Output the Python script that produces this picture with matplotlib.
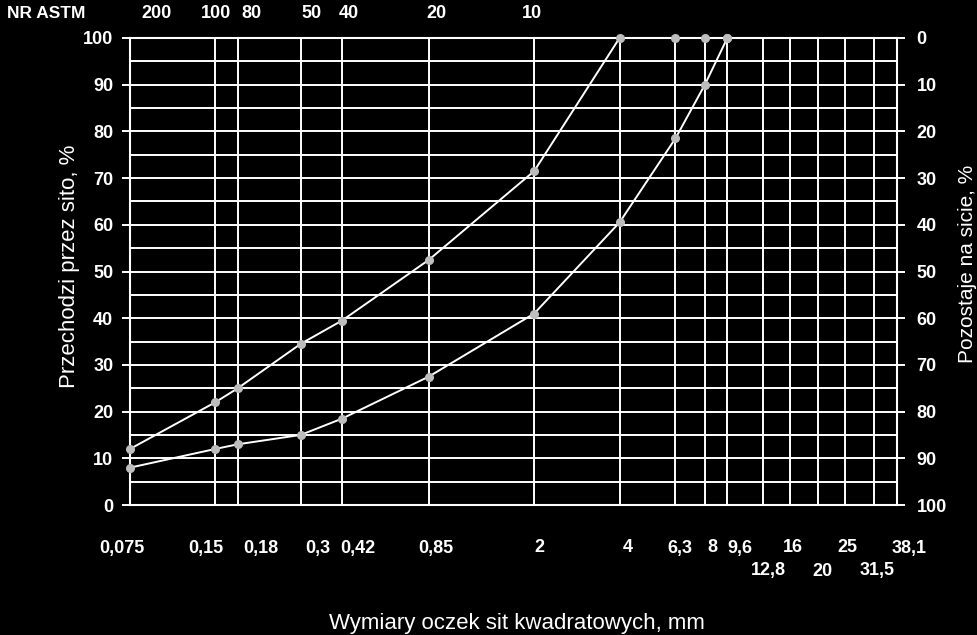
import numpy as np
import matplotlib.pyplot as plt

plt.rcParams['font.family'] = ['Liberation Sans', 'DejaVu Sans']
plt.rcParams['text.color'] = 'white'

# sieve openings, mm (bottom axis)
row1_sizes  = [0.075, 0.15, 0.18, 0.3, 0.42, 0.85, 2, 4, 6.3, 8, 9.6, 16, 25, 38.1]
row1_labels = ['0,075', '0,15', '0,18', '0,3', '0,42', '0,85', '2', '4', '6,3', '8', '9,6', '16', '25', '38,1']
row2_sizes  = [12.8, 20, 31.5]
row2_labels = ['12,8', '20', '31,5']

# ASTM sieve numbers (top axis)
astm_sizes  = [0.075, 0.15, 0.18, 0.3, 0.42, 0.85, 2]
astm_labels = ['200', '100', '80', '50', '40', '20', '10']

# grading curves, % passing
curve_x   = [0.075, 0.15, 0.18, 0.3, 0.42, 0.85, 2, 4, 6.3, 8, 9.6]
upper_pct = [12, 22, 25, 34.5, 39.5, 52.5, 71.5, 100, 100, 100, 100]
lower_pct = [8, 12, 13, 15, 18.5, 27.5, 41, 60.5, 78.5, 90, 100]

# horizontal nudges of the hand-placed labels (pixels)
row1_dx = [-8, -10, 23, 17, 16, 7, 5, 8, 4, 8, 13, 3, 2, 12]
row2_dx = [6, 5, 4]
astm_dx = [26, 1, 14, 11, 7, 8, -2]

fig = plt.figure(figsize=(9.78, 6.35), dpi=100, facecolor='black')
ax = fig.add_axes([130/978, 130/635, 767/978, 467/635])
ax.set_facecolor('black')

xmin, xmax = 0.075, 38.1
ax.set_xscale('log')
ax.set_xlim(xmin, xmax)
ax.set_ylim(0, 100)

ax.set_xticks(row1_sizes)
ax.set_xticklabels([])
ax.set_xticks(row2_sizes, minor=True)
ax.set_xticklabels([], minor=True)
ax.set_yticks(np.arange(0, 101, 10))
ax.set_yticks(np.arange(5, 100, 10), minor=True)

ax.grid(True, which='both', color='white', lw=1.4)
ax.set_axisbelow(True)
for s in ax.spines.values():
    s.set_color('white')
    s.set_linewidth(1.5)

ax.tick_params(axis='x', which='both', length=0)
ax.tick_params(axis='y', which='major', length=6, width=1.4, color='white', pad=6,
               labelsize=13, labelcolor='white')
ax.tick_params(axis='y', which='minor', length=0)
for lab in ax.get_yticklabels():
    lab.set_fontweight('bold')

px = 0.72  # points per pixel at 100 dpi
lab_kw = dict(xycoords=('data', 'axes fraction'), textcoords='offset points',
              ha='center', va='center', fontsize=13, fontweight='bold', color='white')
for s, t, dx in zip(row1_sizes, row1_labels, row1_dx):
    ax.annotate(t, xy=(s, 0), xytext=(dx * px, -43 * px), **lab_kw)
for s, t, dx in zip(row2_sizes, row2_labels, row2_dx):
    ax.annotate(t, xy=(s, 0), xytext=(dx * px, -66 * px), **lab_kw)
for s, t, dx in zip(astm_sizes, astm_labels, astm_dx):
    ax.annotate(t, xy=(s, 1), xytext=(dx * px, 24 * px), **lab_kw)

ax.plot(curve_x, upper_pct, color='white', lw=1.4, marker='o', ms=5.5,
        mfc='#bdbdbd', mec='#bdbdbd', clip_on=False, zorder=5)
ax.plot(curve_x, lower_pct, color='white', lw=1.4, marker='o', ms=5.5,
        mfc='#bdbdbd', mec='#bdbdbd', clip_on=False, zorder=5)

# right axis: retained on sieve
ax2 = ax.twinx()
ax2.set_ylim(100, 0)
ax2.set_yticks(np.arange(0, 101, 10))
ax2.tick_params(axis='y', length=6, width=1.4, color='white', pad=8,
                labelsize=13, labelcolor='white')
for lab in ax2.get_yticklabels():
    lab.set_fontweight('bold')
for s in ax2.spines.values():
    s.set_visible(False)

fig.text(7/978, 1 - 14/635, 'NR ASTM', ha='left', va='center', fontsize=12.5, fontweight='bold')
fig.text(517/978, 1 - 623/635, 'Wymiary oczek sit kwadratowych, mm', ha='center', va='center', fontsize=16)
fig.text(70/978, 1 - 266/635, 'Przechodzi przez sito, %', ha='center', va='center', rotation=90, fontsize=16)
fig.text(968/978, 1 - 264/635, 'Pozostaje na sicie, %', ha='center', va='center', rotation=90, fontsize=15)

fig.savefig('out.png', dpi=100, facecolor='black')
